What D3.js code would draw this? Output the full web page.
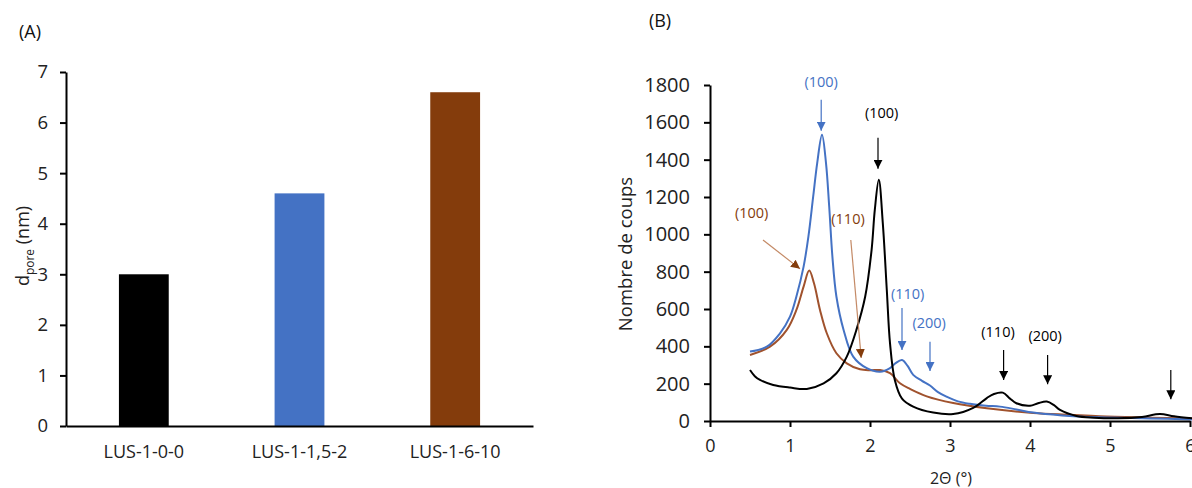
<!DOCTYPE html>
<html><head><meta charset="utf-8">
<script src="https://cdn.jsdelivr.net/npm/d3@7"></script>
<style>
body{margin:0;background:#fff;}
text{font-family:"Open Sans",sans-serif;}
</style></head>
<body>
<svg id="c" width="1192" height="488"></svg>
<script>
// ---------- Data ----------
const barCategories = ["LUS-1-0-0", "LUS-1-1,5-2", "LUS-1-6-10"];
const barValues = [3.0, 4.6, 6.6];
const barColors = ["#000000", "#4472C4", "#843C0C"];
const barYTicks = [0, 1, 2, 3, 4, 5, 6, 7];

const xrdXTicks = [0, 1, 2, 3, 4, 5, 6];
const xrdYTicks = [0, 200, 400, 600, 800, 1000, 1200, 1400, 1600, 1800];

const blackX = [0.5,0.56,0.625,0.79,1.0,1.21,1.42,1.58,1.71,1.83,1.94,2.02,2.06,2.11,2.16,2.21,2.25,2.31,2.4,2.54,2.79,3.04,3.29,3.46,3.55,3.66,3.75,3.83,4.0,4.1,4.21,4.3,4.375,4.58,4.8,5.1,5.4,5.625,5.8,6.05];
const blackY = [273,240,220,193,179,172,202,256,345,488,667,917,1131,1292,1060,702,417,220,120,77,45,37,70,123,145,152,120,95,82,95,104,85,59,27,18,15,22,37,25,13];

const blueX = [0.5,0.71,0.875,1.0,1.08,1.17,1.23,1.29,1.34,1.4,1.45,1.49,1.53,1.58,1.67,1.79,1.96,2.125,2.25,2.32,2.4,2.47,2.54,2.65,2.75,2.85,2.96,3.1,3.25,3.45,3.625,3.83,4.04,4.4,4.87,5.5,6.05];
const blueY = [372,398,470,559,667,827,988,1203,1382,1534,1382,1149,881,667,488,345,283,264,283,310,327,295,247,215,190,155,130,105,92,82,77,62,45,30,20,14,8];

const brownX = [0.5,0.75,0.96,1.08,1.17,1.24,1.3,1.375,1.46,1.58,1.71,1.875,2.0,2.125,2.25,2.375,2.5,2.71,3.04,3.46,4.04,4.5,4.87,5.5,6.05];
const brownY = [354,398,488,595,720,806,738,595,470,363,309,277,272,273,256,202,172,132,96,68,43,33,25,18,13];

// annotations: label, colour, label position, arrow start and arrow tip (data units)
const annLabels = ["(100)", "(100)", "(100)", "(110)", "(110)", "(200)", "(110)", "(200)", ""];
const annColors = ["#4472C4", "#000000", "#843C0C", "#843C0C", "#4472C4", "#4472C4", "#000000", "#000000", "#000000"];
const annTextX = [1.39, 2.146, 0.52, 1.725, 2.47, 2.74, 3.6, 4.19, 5.76];
const annTextY = [1818, 1651, 1117, 1082, 681, 524, 479, 457, 0];
const annX1 = [1.39, 2.10, 0.6625, 1.76, 2.40, 2.75, 3.67, 4.22, 5.76];
const annY1 = [1721, 1517, 970, 970, 606, 424, 381, 354, 273];
const annX2 = [1.39, 2.10, 1.125, 1.89, 2.40, 2.75, 3.67, 4.22, 5.76];
const annY2 = [1555, 1351, 815, 338, 381, 268, 220, 197, 116];
const annLineColors = ["#4472C4", "#000000", "#C48A66", "#C48A66", "#4472C4", "#4472C4", "#000000", "#000000", "#000000"];

// ---------- Drawing ----------
const svg = d3.select("#c");
const FONT = "'Open Sans',sans-serif";

const defs = svg.append("defs");
const markerColors = {blue:"#4472C4", black:"#000000", brown:"#843C0C"};
Object.entries(markerColors).forEach(([k,c]) => {
  defs.append("marker").attr("id","arr-"+k).attr("viewBox","0 0 10 10")
    .attr("refX",10).attr("refY",5).attr("markerWidth",9).attr("markerHeight",9)
    .attr("markerUnits","userSpaceOnUse").attr("orient","auto")
    .append("path").attr("d","M0,0 L10,5 L0,10 Z").attr("fill",c);
});
function markerFor(c){ return c==="#4472C4"?"blue":(c==="#000000"?"black":"brown"); }

// ===== Panel A =====
svg.append("text").attr("x",30).attr("y",38).attr("text-anchor","middle")
  .style("font-size","18px").attr("fill","#111").text("(A)");

const xA = d3.scaleBand().domain(barCategories).range([66,533]).paddingInner(0.68).paddingOuter(0.34);
const yA = d3.scaleLinear().domain([0,7]).range([426,72]);

svg.selectAll("rect.bar").data(barCategories).join("rect").attr("class","bar")
  .attr("x", d => xA(d)).attr("width", xA.bandwidth())
  .attr("y", (d,i) => yA(barValues[i])).attr("height", (d,i) => yA(0)-yA(barValues[i]))
  .attr("fill", (d,i) => barColors[i]);

const gAy = svg.append("g").attr("transform","translate(66,0)")
  .call(d3.axisLeft(yA).tickValues(barYTicks).tickSize(6).tickSizeOuter(0).tickPadding(12).tickFormat(d3.format("d")));
const gAx = svg.append("g").attr("transform","translate(0,426)")
  .call(d3.axisBottom(xA).tickSize(0).tickPadding(19));
[gAy,gAx].forEach(g => {
  g.select(".domain").attr("stroke","#000").attr("stroke-width",2);
  g.selectAll(".tick line").attr("stroke","#000").attr("stroke-width",2);
  g.selectAll(".tick text").attr("fill","#222").style("font-family",FONT);
});
gAy.selectAll(".tick text").style("font-size","18.5px");
gAx.selectAll(".tick text").style("font-size","18px");

const labA = svg.append("text").attr("transform","translate(29,246) rotate(-90)")
  .attr("text-anchor","middle").style("font-size","18px").attr("fill","#222");
labA.append("tspan").text("d");
labA.append("tspan").attr("dy",5).style("font-size","12px").text("pore");
labA.append("tspan").attr("dy",-5).text(" (nm)");

// ===== Panel B =====
svg.append("text").attr("x",660).attr("y",27).attr("text-anchor","middle")
  .style("font-size","18px").attr("fill","#111").text("(B)");

const xB = d3.scaleLinear().domain([0,6]).range([710,1190]);
const yB = d3.scaleLinear().domain([0,1800]).range([421,85]);

const line = d3.line().x(d => xB(d[0])).y(d => yB(d[1])).curve(d3.curveCatmullRom.alpha(0.5));
const series = [
  {xs: brownX, ys: brownY, c: "#A0522D"},
  {xs: blueX, ys: blueY, c: "#4472C4"},
  {xs: blackX, ys: blackY, c: "#000000"}
];
series.forEach(s => {
  svg.append("path").datum(s.xs.map((x,i) => [x, s.ys[i]]))
    .attr("d", line).attr("fill","none").attr("stroke", s.c).attr("stroke-width",2);
});

const gBy = svg.append("g").attr("transform","translate(710,0)")
  .call(d3.axisLeft(yB).tickValues(xrdYTicks).tickSize(6).tickSizeOuter(0).tickPadding(14).tickFormat(d3.format("d")));
const gBx = svg.append("g").attr("transform","translate(0,421)")
  .call(d3.axisBottom(xB).tickValues(xrdXTicks).tickSize(6).tickSizeOuter(0).tickPadding(12).tickFormat(d3.format("d")));
[gBy,gBx].forEach(g => {
  g.select(".domain").attr("stroke","#000").attr("stroke-width",2);
  g.selectAll(".tick line").attr("stroke","#000").attr("stroke-width",2);
  g.selectAll(".tick text").attr("fill","#222").style("font-family",FONT);
});
gBy.selectAll(".tick text").style("font-size","20px");
gBx.selectAll(".tick text").style("font-size","18px");

svg.append("text").attr("transform","translate(632,254) rotate(-90)")
  .attr("text-anchor","middle").style("font-size","18.5px").attr("fill","#222").text("Nombre de coups");
svg.append("text").attr("x",951).attr("y",484).attr("text-anchor","middle")
  .style("font-size","16px").attr("fill","#222").text("2Θ (°)");

annLabels.forEach((t,i) => {
  if (t) svg.append("text").attr("x", xB(annTextX[i])).attr("y", yB(annTextY[i])).attr("dy","0.35em")
    .attr("text-anchor","middle").style("font-size","14.5px").attr("fill", annColors[i]).text(t);
  svg.append("line").attr("x1", xB(annX1[i])).attr("y1", yB(annY1[i]))
    .attr("x2", xB(annX2[i])).attr("y2", yB(annY2[i]))
    .attr("stroke", annLineColors[i]).attr("stroke-width",1.2)
    .attr("marker-end","url(#arr-"+markerFor(annColors[i])+")");
});
</script>
</body></html>
